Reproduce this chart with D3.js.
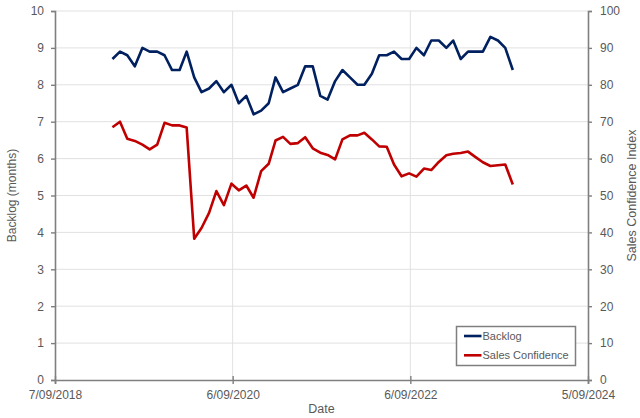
<!DOCTYPE html>
<html>
<head>
<meta charset="utf-8">
<script src="https://cdn.jsdelivr.net/npm/d3@7"></script>
<style>
    body { margin: 0; background: #ffffff; }
    svg { display: block; font-family: "Liberation Sans", Arial, sans-serif; }
</style>
</head>
<body>
<svg id="chart" width="640" height="418"></svg>
<script>
// monthly observations, May 2019 - Nov 2023
let months = [
    "2019-05", "2019-06", "2019-07", "2019-08", "2019-09", "2019-10", "2019-11", "2019-12",
    "2020-01", "2020-02", "2020-03", "2020-04", "2020-05", "2020-06", "2020-07", "2020-08",
    "2020-09", "2020-10", "2020-11", "2020-12", "2021-01", "2021-02", "2021-03", "2021-04",
    "2021-05", "2021-06", "2021-07", "2021-08", "2021-09", "2021-10", "2021-11", "2021-12",
    "2022-01", "2022-02", "2022-03", "2022-04", "2022-05", "2022-06", "2022-07", "2022-08",
    "2022-09", "2022-10", "2022-11", "2022-12", "2023-01", "2023-02", "2023-03", "2023-04",
    "2023-05", "2023-06", "2023-07", "2023-08", "2023-09", "2023-10", "2023-11"
];

// backlog in months (left axis)
let backlog = [
    8.7, 8.9, 8.8, 8.5, 9.0, 8.9, 8.9, 8.8, 8.4, 8.4, 8.9, 8.2, 7.8,
    7.9, 8.1, 7.8, 8.0, 7.5, 7.7, 7.2, 7.3, 7.5, 8.2, 7.8, 7.9, 8.0, 8.5,
    8.5, 7.7, 7.6, 8.1, 8.4, 8.2, 8.0, 8.0, 8.3, 8.8, 8.8, 8.9, 8.7,
    8.7, 9.0, 8.8, 9.2, 9.2, 9.0, 9.2, 8.7, 8.9, 8.9, 8.9, 9.3, 9.2, 9.0, 8.4
];

// sales confidence index (right axis)
let salesConfidence = [
    68.5, 70.0, 65.4, 64.8, 63.8, 62.5, 63.8, 69.7, 69.0, 69.0, 68.4, 38.3, 41.2,
    45.3, 51.2, 47.4, 53.2, 51.4, 52.7, 49.4, 56.6, 58.6, 64.9, 65.9, 64.0, 64.2, 65.8,
    62.8, 61.6, 61.0, 59.8, 65.2, 66.3, 66.3, 67.0, 65.2, 63.3, 63.2, 58.4, 55.2,
    56.0, 55.1, 57.3, 56.9, 59.1, 60.9, 61.3, 61.5, 61.9, 60.4, 59.0, 58.0, 58.2, 58.4, 53.0
];

let xTickDates = ["2018-09-07", "2020-09-06", "2022-09-06", "2024-09-05"];
let leftTicks = [0, 1, 2, 3, 4, 5, 6, 7, 8, 9, 10];
let rightTicks = [0, 10, 20, 30, 40, 50, 60, 70, 80, 90, 100];

let seriesNames = ["Backlog", "Sales Confidence"];
let seriesColors = ["#002060", "#c00000"];

let parseMonth = d3.timeParse("%Y-%m");
let parseDay = d3.timeParse("%Y-%m-%d");

let dates = months.map(parseMonth);
let tickDates = xTickDates.map(parseDay);

let svg = d3.select("#chart");

let plotLeft = 55, plotRight = 588, plotTop = 11, plotBottom = 380;
let axisColor = "#7f7f7f";
let gridColor = "#e1e1e1";
let textColor = "#595959";

/** Scales */
let x = d3.scaleTime()
    .domain([tickDates[0], tickDates[tickDates.length - 1]])
    .range([plotLeft, plotRight]);

let yLeft = d3.scaleLinear()
    .domain([0, 10])
    .range([plotBottom, plotTop]);

let yRight = d3.scaleLinear()
    .domain([0, 100])
    .range([plotBottom, plotTop]);

// gridlines
svg.append("g")
    .selectAll("line")
    .data(leftTicks.slice(1))
    .join("line")
    .attr("x1", plotLeft)
    .attr("x2", plotRight)
    .attr("y1", d => yLeft(d))
    .attr("y2", d => yLeft(d))
    .attr("stroke", gridColor)
    .attr("stroke-width", 1);

svg.append("g")
    .selectAll("line")
    .data(tickDates.slice(1, -1))
    .join("line")
    .attr("x1", d => x(d))
    .attr("x2", d => x(d))
    .attr("y1", plotTop)
    .attr("y2", plotBottom)
    .attr("stroke", gridColor)
    .attr("stroke-width", 1);

/** Axes */
function styleAxis(g) {
    g.select(".domain").attr("stroke", axisColor).attr("stroke-width", 1.6);
    g.selectAll(".tick line").attr("stroke", axisColor).attr("stroke-width", 1.4);
    g.selectAll(".tick text")
        .attr("fill", textColor)
        .style("font-size", "12px")
        .style("font-family", "'Liberation Sans', Arial, sans-serif");
}

let xAxis = svg.append("g")
    .attr("transform", `translate(0, ${plotBottom})`)
    .call(d3.axisBottom(x)
        .tickValues(tickDates)
        .tickFormat(d3.timeFormat("%-d/%m/%Y"))
        .tickSizeOuter(0)
        .tickSize(4)
        .tickPadding(6))
    .call(styleAxis);
// cross tick marks
xAxis.selectAll(".tick line").attr("y1", -4).attr("y2", 4);

svg.append("g")
    .attr("transform", `translate(${plotLeft}, 0)`)
    .call(d3.axisLeft(yLeft)
        .tickValues(leftTicks)
        .tickSizeOuter(0)
        .tickSize(4)
        .tickPadding(7))
    .call(styleAxis);

svg.append("g")
    .attr("transform", `translate(${plotRight}, 0)`)
    .call(d3.axisRight(yRight)
        .tickValues(rightTicks)
        .tickSizeOuter(0)
        .tickSize(4)
        .tickPadding(8))
    .call(styleAxis);

/** Axis titles */
svg.append("text")
    .attr("transform", `translate(16, ${(plotTop + plotBottom) / 2}) rotate(-90)`)
    .attr("text-anchor", "middle")
    .attr("fill", textColor)
    .style("font-size", "12px")
    .text("Backlog (months)");

svg.append("text")
    .attr("transform", `translate(636, ${(plotTop + plotBottom) / 2}) rotate(-90)`)
    .attr("text-anchor", "middle")
    .attr("fill", textColor)
    .style("font-size", "12.5px")
    .text("Sales Confidence Index");

svg.append("text")
    .attr("x", (plotLeft + plotRight) / 2)
    .attr("y", 413)
    .attr("text-anchor", "middle")
    .attr("fill", textColor)
    .style("font-size", "12.5px")
    .text("Date");

/** Lines */
let backlogLine = d3.line()
    .x((d, i) => x(dates[i]))
    .y(d => yLeft(d));

let confidenceLine = d3.line()
    .x((d, i) => x(dates[i]))
    .y(d => yRight(d));

svg.append("path")
    .datum(backlog)
    .attr("d", backlogLine)
    .attr("fill", "none")
    .attr("stroke", seriesColors[0])
    .attr("stroke-width", 2.6)
    .attr("stroke-linejoin", "round");

svg.append("path")
    .datum(salesConfidence)
    .attr("d", confidenceLine)
    .attr("fill", "none")
    .attr("stroke", seriesColors[1])
    .attr("stroke-width", 2.6)
    .attr("stroke-linejoin", "round");

/** Legend */
let legend = svg.append("g").attr("transform", "translate(456.5, 326.5)");

legend.append("rect")
    .attr("width", 119)
    .attr("height", 39)
    .attr("fill", "#ffffff")
    .attr("stroke", axisColor)
    .attr("stroke-width", 1.5);

let item = legend.selectAll("g.item")
    .data(seriesNames)
    .join("g")
    .attr("class", "item")
    .attr("transform", (d, i) => `translate(0, ${9.5 + i * 19.3})`);

item.append("line")
    .attr("x1", 7.5)
    .attr("x2", 25)
    .attr("stroke", (d, i) => seriesColors[i])
    .attr("stroke-width", 2.6);

item.append("text")
    .attr("x", 26)
    .attr("dy", "0.35em")
    .attr("fill", textColor)
    .style("font-size", "11px")
    .text(d => d);
</script>
</body>
</html>
